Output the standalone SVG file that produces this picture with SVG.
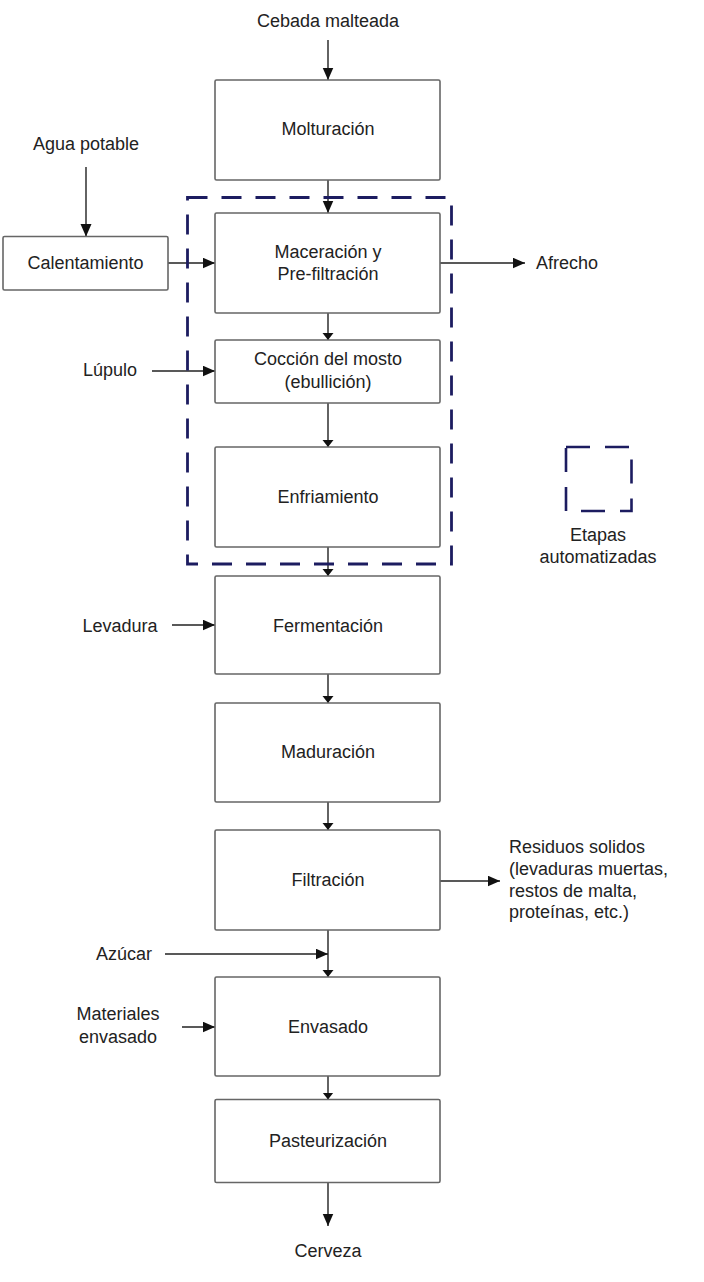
<svg xmlns="http://www.w3.org/2000/svg" width="704" height="1282" viewBox="0 0 704 1282">
<defs>
<marker id="big" markerUnits="userSpaceOnUse" markerWidth="13" markerHeight="12" refX="12.5" refY="5.5" orient="auto"><path d="M0,0 L12.5,5.5 L0,11 z" fill="#111"/></marker>
<marker id="small" markerUnits="userSpaceOnUse" markerWidth="8" markerHeight="12" refX="7" refY="5.5" orient="auto"><path d="M0,0 L7,5.5 L0,11 z" fill="#111"/></marker>
<style>
.box{fill:#fff;stroke:#666;stroke-width:1.6}
.t{font-family:"Liberation Sans",Arial,sans-serif;font-size:18px;fill:#222;text-anchor:middle}
.ts{font-family:"Liberation Sans",Arial,sans-serif;font-size:18px;fill:#222}
.c{fill:none;stroke:#222;stroke-width:1.4}
.cb{marker-end:url(#big)}
.cs{marker-end:url(#small)}
.dash{fill:none;stroke:#1c1c60;stroke-width:2.8;stroke-dasharray:20 14}
</style>
</defs>
<rect width="704" height="1282" fill="#fff"/>

<g id="connectors">
<path class="c cb" d="M328,40 V80"/>
<path class="c cb" d="M86,167 V236.5"/>
<path class="c cb" d="M168,263 H215"/>
<path class="c cb" d="M328,180 V213"/>
<path class="c cb" d="M440,263 H525"/>
<path class="c cs" d="M328,313 V340"/>
<path class="c cb" d="M152,371 H215"/>
<path class="c cs" d="M328,403 V447"/>
<path class="c cs" d="M328,547 V576"/>
<path class="c cb" d="M172,625 H215"/>
<path class="c cs" d="M328,674 V703"/>
<path class="c cs" d="M328,802 V830"/>
<path class="c cb" d="M440,881 H500"/>
<path class="c cb" d="M165,954 H328"/>
<path class="c cs" d="M328,930 V977"/>
<path class="c cb" d="M182,1027 H215"/>
<path class="c cs" d="M328,1076 V1099.5"/>
<path class="c cb" d="M328,1182.5 V1226"/>
</g>

<g id="automated-group">
<path class="dash" d="M187.5,197.5 H451.5 V564 H187.5 Z"/>
</g>

<g id="cebada"><text class="t" x="328" y="27">Cebada malteada</text></g>
<g id="molturacion"><rect class="box" x="215" y="80" width="225" height="100" rx="1.5"/><text class="t" x="328" y="135">Molturación</text></g>
<g id="agua"><text class="t" x="86" y="150">Agua potable</text></g>
<g id="calentamiento"><rect class="box" x="3" y="236.5" width="165" height="53.5" rx="1.5"/><text class="t" x="85.5" y="269">Calentamiento</text></g>
<g id="maceracion"><rect class="box" x="215" y="213" width="225" height="100" rx="1.5"/><text class="t" x="328" y="258">Maceración y</text><text class="t" x="328" y="280">Pre-filtración</text></g>
<g id="afrecho"><text class="ts" x="536" y="269">Afrecho</text></g>
<g id="lupulo"><text class="t" x="110" y="376">Lúpulo</text></g>
<g id="coccion"><rect class="box" x="215" y="340" width="225" height="63" rx="1.5"/><text class="t" x="328" y="365">Cocción del mosto</text><text class="t" x="328" y="388">(ebullición)</text></g>
<g id="enfriamiento"><rect class="box" x="215" y="447" width="225" height="100" rx="1.5"/><text class="t" x="328" y="503">Enfriamiento</text></g>
<g id="legend"><path class="dash" d="M566,447 H631.5 V511 H566 Z" style="stroke-dasharray:24 15;stroke-width:2.6"/><text class="t" x="598" y="541">Etapas</text><text class="t" x="598" y="563">automatizadas</text></g>
<g id="levadura"><text class="t" x="120" y="632">Levadura</text></g>
<g id="fermentacion"><rect class="box" x="215" y="576" width="225" height="98" rx="1.5"/><text class="t" x="328" y="632">Fermentación</text></g>
<g id="maduracion"><rect class="box" x="215" y="703" width="225" height="99" rx="1.5"/><text class="t" x="328" y="758">Maduración</text></g>
<g id="filtracion"><rect class="box" x="215" y="830" width="225" height="100" rx="1.5"/><text class="t" x="328" y="886">Filtración</text></g>
<g id="residuos"><text class="ts" x="509" y="853">Residuos solidos</text><text class="ts" x="509" y="875">(levaduras muertas,</text><text class="ts" x="509" y="897">restos de malta,</text><text class="ts" x="509" y="918">proteínas, etc.)</text></g>
<g id="azucar"><text class="t" x="124" y="960">Azúcar</text></g>
<g id="materiales"><text class="t" x="118" y="1020">Materiales</text><text class="t" x="118" y="1043">envasado</text></g>
<g id="envasado"><rect class="box" x="215" y="977" width="225" height="99" rx="1.5"/><text class="t" x="328" y="1033">Envasado</text></g>
<g id="pasteurizacion"><rect class="box" x="215" y="1099.5" width="225" height="83" rx="1.5"/><text class="t" x="328" y="1147">Pasteurización</text></g>
<g id="cerveza"><text class="t" x="328" y="1257">Cerveza</text></g>
</svg>
